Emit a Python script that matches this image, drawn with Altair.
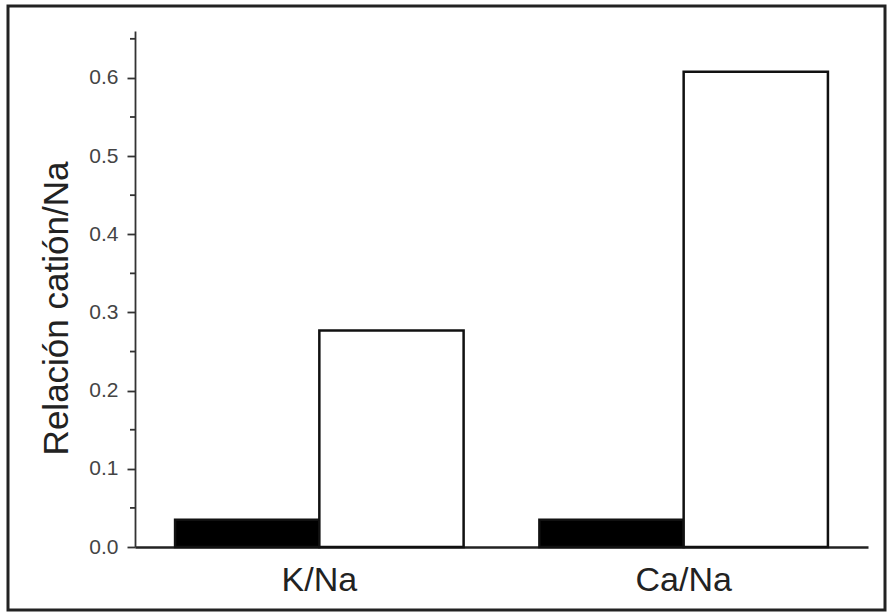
import altair as alt
import pandas as pd

categories = ["K/Na", "Ca/Na"]
series = ["filled", "open"]
filled_values = [0.035, 0.035]
open_values = [0.277, 0.608]
major_ticks = [0.0, 0.1, 0.2, 0.3, 0.4, 0.5, 0.6]
minor_ticks = [0.05, 0.15, 0.25, 0.35, 0.45, 0.55, 0.65]

rows = []
for c, f, o in zip(categories, filled_values, open_values):
    rows.append({"cat": c, "serie": series[0], "val": f})
    rows.append({"cat": c, "serie": series[1], "val": o})
df = pd.DataFrame(rows)

FONT = "Liberation Sans"
ydom = [0, 0.66]

yscale = alt.Scale(domain=ydom, nice=False, zero=True)

bars = alt.Chart(df).mark_bar(stroke="#111", strokeWidth=2.5).encode(
    x=alt.X("cat:N", sort=categories,
            scale=alt.Scale(paddingInner=0.208, paddingOuter=0.11),
            axis=alt.Axis(title=None, labelAngle=0, labelFontSize=34, labelFont=FONT,
                          labelColor="#222", ticks=False, tickSize=0, labelPadding=43,
                          labelBaseline="alphabetic",
                          domainColor="#222", domainWidth=2.5)),
    xOffset=alt.XOffset("serie:N", sort=series, scale=alt.Scale(paddingInner=0, paddingOuter=0)),
    y=alt.Y("val:Q", scale=yscale,
            axis=alt.Axis(title="Relación catión/Na", values=major_ticks, format=".1f",
                          tickSize=8, tickWidth=1.8, tickColor="#333",
                          domainColor="#333", domainWidth=1.8,
                          labelFontSize=21, labelFont=FONT, labelColor="#444", labelPadding=9,
                          titleFontSize=35, titleFont=FONT, titleFontWeight="normal",
                          titleColor="#222", titleAngle=270, titleX=-68, titleY=277,
                          titleAlign="center", titleBaseline="alphabetic", grid=False)),
    fill=alt.Fill("serie:N", sort=series,
                  scale=alt.Scale(domain=series, range=["#000000", "#ffffff"]), legend=None),
)

minor = alt.Chart(pd.DataFrame({"v": minor_ticks})).mark_rule(color="#333", strokeWidth=1.8).encode(
    y=alt.Y("v:Q", scale=yscale),
    x=alt.value(-5),
    x2=alt.value(0),
)

frame = alt.Chart(pd.DataFrame({"a": [0]})).mark_rect(
    fill=None, stroke="#222", strokeWidth=3).encode(
    x=alt.value(-127), x2=alt.value(750), y=alt.value(-25), y2=alt.value(579))

chart = alt.layer(frame, bars, minor).properties(
    width=733, height=516,
    autosize=alt.AutoSizeParams(type="none"),
    padding={"left": 135, "top": 31, "right": 21, "bottom": 68},
    background="white",
).configure_view(stroke=None)

chart.save("out.html", embed_options={"renderer": "svg", "actions": False})
